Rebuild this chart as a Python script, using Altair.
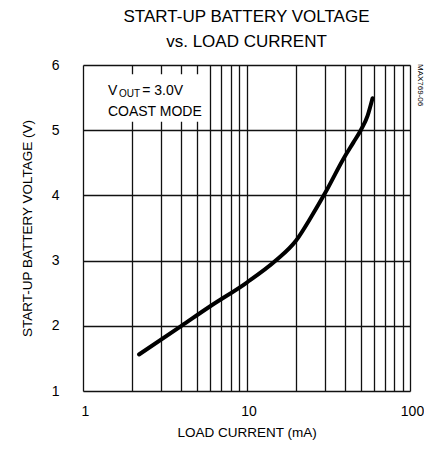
import altair as alt
import pandas as pd

# Curve data
current_ma = [2.2, 4, 6, 10, 15.1, 20, 25, 30, 40, 45, 50, 55, 59]
voltage_v = [1.56, 2.0, 2.3, 2.66, 3.0, 3.30, 3.68, 4.02, 4.6, 4.81, 5.0, 5.22, 5.49]

x_ticks = [1, 2, 3, 4, 5, 6, 7, 8, 9, 10, 20, 30, 40, 50, 60, 70, 80, 90, 100]
y_ticks = [1, 2, 3, 4, 5, 6]

FONT = "Liberation Sans"
W, H = 327, 326

df = pd.DataFrame({"current": current_ma, "voltage": voltage_v})

xscale = alt.Scale(type="log", domain=[1, 100], nice=False)
yscale = alt.Scale(domain=[1, 6], nice=False, zero=False)

xaxis = alt.Axis(
    values=x_ticks,
    labelExpr="datum.value == 1 ? '1' : datum.value == 10 ? '10' : datum.value == 100 ? '100' : ''",
    grid=True, gridColor="#111", gridWidth=1.3, gridOpacity=1,
    ticks=False, tickSize=0, domain=False, labelFlush=False,
    labelFont=FONT, labelFontSize=14, labelColor="black", labelPadding=13,
    labelOffset=2,
    title="LOAD CURRENT (mA)", titleFont=FONT, titleFontSize=13.5, titleFontWeight="normal",
    titleColor="black", titleX=W / 2, titleY=41, titleBaseline="middle",
)
yaxis = alt.Axis(
    values=y_ticks, format="d",
    grid=True, gridColor="#111", gridWidth=1.3, gridOpacity=1,
    ticks=False, tickSize=0, domain=False, labelFlush=False,
    labelFont=FONT, labelFontSize=14, labelColor="black", labelPadding=24,
    title="START-UP BATTERY VOLTAGE (V)", titleFont=FONT, titleFontSize=13.5,
    titleFontWeight="normal", titleColor="black", titleX=-56, titleY=H / 2,
    titleBaseline="middle", titleAngle=270,
)

# white box behind the annotation
box_df = pd.DataFrame({"x": [1.12], "x2": [5.5], "y": [5.13], "y2": [5.86]})
box = alt.Chart(box_df).mark_rect(fill="white").encode(
    x=alt.X("x:Q", scale=xscale, axis=xaxis),
    x2="x2:Q",
    y=alt.Y("y:Q", scale=yscale, axis=yaxis),
    y2="y2:Q",
)

line = alt.Chart(df).mark_line(color="black", strokeWidth=4, interpolate="monotone",
                                strokeCap="round").encode(
    x=alt.X("current:Q", scale=xscale),
    y=alt.Y("voltage:Q", scale=yscale),
)

ann_v = pd.DataFrame({"x": [1.42], "y": [5.533], "t": ["V"]})
ann_sub = pd.DataFrame({"x": [1.66], "y": [5.533], "t": ["OUT"]})
ann_eq = pd.DataFrame({"x": [2.3], "y": [5.533], "t": ["= 3.0V"]})
ann_mode = pd.DataFrame({"x": [1.42], "y": [5.216], "t": ["COAST MODE"]})

def txt(d, size=14, dy=0):
    return alt.Chart(d).mark_text(align="left", baseline="alphabetic", font=FONT,
                                  fontSize=size, color="black", dy=dy).encode(
        x=alt.X("x:Q", scale=xscale), y=alt.Y("y:Q", scale=yscale), text="t:N")

code_df = pd.DataFrame({"x": [100], "y": [6], "t": ["MAX769-06"]})
code = alt.Chart(code_df).mark_text(align="left", baseline="middle", font=FONT,
                                    fontSize=8, color="black", angle=90, dx=-1, dy=-10).encode(
    x=alt.X("x:Q", scale=xscale), y=alt.Y("y:Q", scale=yscale), text="t:N")

chart = alt.layer(
    box, line, txt(ann_v), txt(ann_sub, 10, 1.5), txt(ann_eq), txt(ann_mode), code
).properties(
    width=W, height=H,
    title=alt.TitleParams(
        ["START-UP BATTERY VOLTAGE", "vs. LOAD CURRENT"],
        font=FONT, fontSize=17, fontWeight="normal", color="black",
        anchor="middle", lineHeight=25, offset=7,
    ),
    padding={"left": 12, "top": 0, "right": 0, "bottom": 5},
).configure_view(stroke="black", strokeWidth=3.5).configure(background="white")

chart.save("out.html", embed_options={"renderer": "svg", "actions": False})
